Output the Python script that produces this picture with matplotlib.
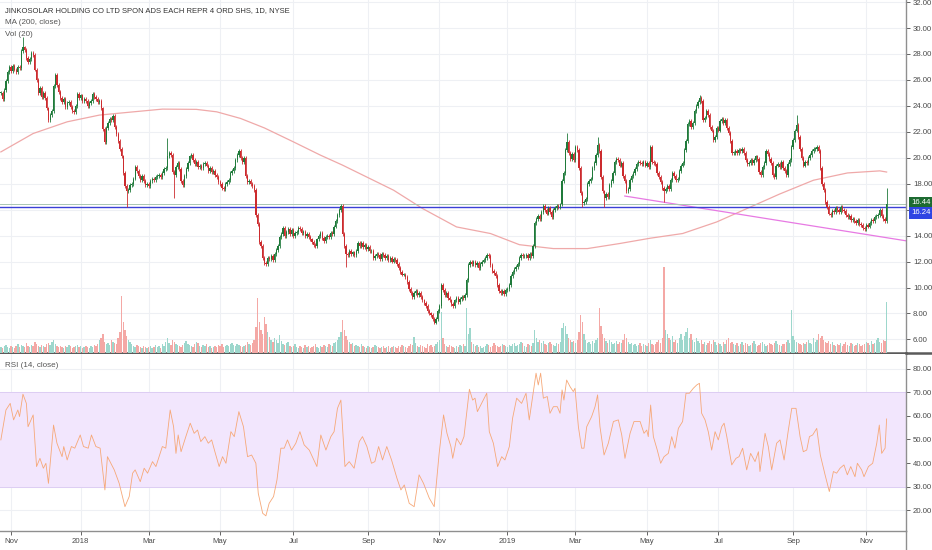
import numpy as np
import pandas as pd
import matplotlib
matplotlib.use("Agg")
import matplotlib.pyplot as plt
from matplotlib.lines import Line2D

# ---------------- data ----------------
title = "JINKOSOLAR HOLDING CO LTD SPON ADS EACH REPR 4 ORD SHS, 1D, NYSE"
start_date = "2017-10-24"
nyse_holidays = ["2017-11-23", "2017-12-25", "2018-01-01", "2018-01-15", "2018-02-19",
                 "2018-03-30", "2018-05-28", "2018-07-04", "2018-09-03", "2018-11-22",
                 "2018-12-05", "2018-12-25", "2019-01-01", "2019-01-21", "2019-02-18",
                 "2019-04-19", "2019-05-27", "2019-07-04", "2019-09-02"]

# daily closes (open taken as previous close)
close = [
    25.0, 24.5, 25.2, 25.9, 26.6, 27.0, 26.7, 27.1, 26.8, 26.6,
    27.0, 26.9, 28.2, 28.5, 28.3, 27.7, 27.4, 27.6, 28.1, 27.9,
    26.8, 26.0, 25.0, 25.4, 24.7, 25.0, 24.6, 23.8, 22.9, 23.3,
    23.6, 25.5, 26.4, 25.6, 25.1, 24.6, 24.3, 24.5, 23.9, 24.2,
    24.3, 23.9, 23.6, 23.5, 24.0, 24.9, 24.6, 24.8, 24.4, 24.5,
    24.4, 24.0, 24.2, 24.4, 24.9, 24.7, 24.5, 24.3, 24.4, 23.8,
    22.2, 21.2, 22.3, 22.7, 23.0, 22.9, 23.2, 22.4, 21.8, 21.3,
    20.7, 20.1, 18.8, 17.8, 17.4, 17.5, 17.9,
    18.0, 18.4, 19.3,
    19.0, 18.6, 18.3, 18.6, 18.2, 17.9, 18.0, 17.8, 18.2, 18.4,
    18.3, 18.5, 18.6, 18.7, 18.5, 18.8, 19.1, 19.2, 20.1, 20.4,
    20.2, 18.9, 18.7, 19.3, 19.6, 19.1, 18.2, 17.9, 18.6, 19.1,
    19.6, 20.1, 20.2, 19.8, 19.5, 19.7, 19.3, 19.4, 19.2, 19.5,
    19.6, 19.4, 19.0, 19.2, 18.9, 19.0, 18.7, 18.5, 18.1, 18.0,
    17.7, 17.6, 18.0, 18.1, 18.3, 18.8, 19.0, 19.2, 19.8, 20.2,
    20.5, 20.0, 19.7, 20.0, 18.6, 18.1, 18.2, 18.0, 17.8, 17.5,
    15.6, 14.9, 13.5, 13.2, 12.3,
    11.9, 11.8, 12.3, 12.2, 12.4,
    12.1, 12.6, 12.9, 13.2, 13.9, 14.1, 14.6, 14.0, 14.3, 14.5,
    14.1, 14.4, 14.0, 14.2, 14.3, 14.6, 14.5, 14.2, 14.3, 14.0,
    14.1, 13.9, 13.7, 13.5, 13.3, 13.2, 13.7, 14.0, 14.2, 13.8,
    13.6, 13.9, 14.0, 13.9, 14.2, 14.1, 14.7, 15.1, 15.6, 16.0,
    16.3, 14.1, 13.2, 12.6, 12.5, 12.8, 12.6, 12.7, 12.5, 12.8,
    13.4, 13.2, 13.4, 13.1, 13.3, 13.0, 13.1, 12.8, 12.8, 12.3,
    12.4, 12.6, 12.5, 12.2, 12.6, 12.5, 12.3, 12.4, 12.1, 12.3,
    12.0, 12.2,
    12.1, 11.8, 11.5, 11.2, 11.0, 11.0, 10.8, 10.4,
    9.9, 9.6, 9.3, 9.6, 9.7, 9.4, 9.6, 9.3, 9.0, 8.8,
    8.6, 8.2, 8.0, 7.9, 7.6, 7.3, 7.6, 8.2, 8.6, 10.2,
    9.8, 9.4, 9.6, 9.2, 9.0, 8.7, 8.6, 9.0, 9.2, 8.9,
    9.1, 9.3, 9.2, 9.4, 10.6, 11.7, 12.0, 11.8, 12.0, 11.7,
    11.9, 11.5, 11.8, 12.0, 12.1, 12.3, 12.5, 12.4, 11.7, 11.3,
    11.1, 10.9, 10.2, 9.7, 9.6, 9.7, 9.5, 9.8, 9.9, 10.2,
    10.9, 11.2, 11.4, 11.6, 11.8, 12.3, 12.5, 12.4,
    12.4, 12.5,
    12.3, 12.6, 12.4, 13.2, 15.0, 15.3, 15.5, 15.3, 15.8, 16.3,
    16.0, 15.7, 16.1, 15.8, 15.4, 16.0, 16.1, 16.3, 16.2, 16.4,
    18.2, 18.8, 20.6, 21.2, 20.4, 19.9, 20.3, 19.8, 20.8, 20.6,
    19.2, 17.3, 16.5, 16.6, 16.8, 18.0, 18.2, 18.4, 19.2, 19.6,
    20.2, 21.0, 20.5, 18.5, 17.4, 16.9, 17.2, 17.0, 17.9, 18.2,
    18.8, 19.7, 19.9, 19.8, 19.4, 19.6, 18.6, 18.2, 17.4, 17.6,
    18.3, 18.6, 18.8, 19.1, 19.5, 19.7, 19.6, 19.5, 19.7, 19.4,
    19.6, 19.3, 20.8, 19.7, 19.6,
    19.5, 18.8, 18.5, 18.1, 17.7,
    17.4, 17.6, 17.8, 17.6, 18.3, 18.8, 18.6, 18.3, 18.4, 19.0,
    19.4, 19.6, 20.6, 21.3, 22.6, 22.8, 22.4, 22.7, 23.6, 24.0,
    24.3, 24.6, 24.4, 22.9, 23.1, 23.6, 23.3, 22.4, 22.1, 21.4,
    21.6, 22.3, 22.1, 22.8, 23.0, 22.7, 22.9, 22.3, 21.9, 21.3,
    20.4, 20.4, 20.5, 20.4, 20.6, 20.5, 20.7, 20.4, 19.8, 19.5,
    19.6, 19.8, 19.6, 19.8, 20.1, 19.9, 18.9, 18.7, 19.3, 19.6,
    20.5, 20.3, 19.9, 19.6, 18.7, 18.5, 19.4, 19.5, 19.3, 19.7,
    19.2,
    19.0, 18.7, 19.5, 19.8, 20.8, 21.4, 22.1, 22.5, 21.6,
    20.7, 20.0, 19.4, 19.7, 19.6, 20.0, 20.2, 20.5, 20.7, 20.7,
    20.8, 20.5, 19.2, 18.0, 17.5, 16.6, 16.2, 15.7, 15.6, 15.9,
    15.8, 16.1, 16.0, 15.8, 16.2, 16.0, 15.9, 15.6, 15.4, 15.5,
    15.2, 15.3, 15.1, 15.0, 15.2, 14.9, 14.8, 14.6, 14.5, 14.8,
    14.7, 15.0, 15.2, 15.1, 15.4, 15.5, 15.6, 16.0, 15.5, 15.3,
    15.1, 16.44,
]

# daily volume (relative units, 100k shares)
volume = [
    5, 4, 6, 7, 5, 4, 6, 5, 4, 6, 8, 5, 7, 6, 5,
    9, 6, 5, 7, 6, 10, 8, 6, 5, 7, 6, 5, 8, 9, 7, 10,
    12, 8, 6, 5, 6, 5, 4, 6, 5, 7, 6, 4, 5, 6, 7, 5, 6, 4, 5, 6, 5, 4, 6, 5, 7, 6, 8, 12, 14,
    18, 10, 8, 9, 7, 12, 10, 9, 8, 14, 20, 56, 30, 22, 16, 12, 10,
    8, 6, 5, 7, 6, 5, 4, 6, 5, 4, 5, 6, 4, 5, 7, 5, 6, 4, 8, 6, 10, 14, 9, 7,
    12, 10, 8, 7, 6, 5, 7, 9, 11, 8, 7, 6, 5, 8, 10, 9, 6, 5, 7, 6, 8, 5, 6, 4, 5,
    6, 5, 7, 6, 8, 5, 6, 7, 6, 8, 9, 7, 6, 8, 7, 6, 5, 6, 7, 10, 8, 7, 9, 12,
    25, 54, 30, 22, 18,
    35, 28, 20, 15, 12, 10, 14, 12, 9, 17, 11, 8, 7, 9, 10, 6,
    5, 6, 8, 5, 4, 6, 5, 4, 7, 5, 6, 4, 5, 6, 8, 5, 4, 6, 5, 7, 6, 5, 8, 7, 6, 9, 10, 12, 15,
    20, 32, 22, 16, 12, 10, 8, 9, 6, 7, 6, 5, 8, 6, 5, 4, 6, 5, 4, 5, 7, 6, 5, 4, 5, 6, 4, 5, 6, 4, 5, 6,
    5, 4, 6, 5, 7, 6, 5, 4, 6, 8, 7, 15, 9, 6, 5, 7, 6, 5, 4, 8, 6, 7, 5, 6, 8, 10,
    12, 40, 14, 8, 6, 5, 7, 6, 5, 4, 6, 5, 7, 6, 8, 6,
    44, 18, 24, 10, 8, 6, 7, 5, 6, 4, 5, 6, 8, 7, 5, 6, 9, 7, 6, 5, 6, 8, 7, 6, 5, 7, 6, 8, 9, 6, 7, 8, 10, 9,
    6, 5, 8, 7, 6, 9, 22, 14, 10, 12, 9, 11, 8, 7, 9, 10, 8, 7, 6, 9, 8, 10,
    24, 29, 26, 18, 14, 12, 10, 11, 9, 12, 20, 37, 30, 18, 12, 9, 10, 8, 11, 9, 12, 14,
    44, 26, 18, 14, 11, 9, 12, 10, 8, 9, 11, 8, 10, 9, 12, 18, 14, 10, 8, 9, 7, 8, 6, 7, 9, 6, 8, 7, 6, 9, 12, 8, 7,
    8, 10, 12, 9, 14,
    85,
    22, 18, 14, 12, 16, 10, 12, 9, 14, 18, 12, 16, 20, 24, 14, 18, 12, 10, 14, 11,
    9, 12, 8, 10, 7, 9, 11, 8, 12, 10, 7, 9, 8, 6, 10, 8, 12, 14, 9, 10,
    8, 7, 9, 6, 8, 10, 7, 9, 8, 6, 7, 9, 11, 8, 6, 7, 9, 10, 8, 6,
    7, 9, 8, 7, 9, 11, 8, 7, 6, 8,
    8, 10, 12, 9, 42, 16, 12, 10, 9, 8,
    7, 9, 8, 10, 12, 9, 8, 14, 10, 12, 18, 14, 16, 12, 10, 9, 11, 8, 10, 7,
    6, 8, 7, 9, 6, 8, 10, 7, 6, 9, 8, 6, 7, 9, 8, 6, 7, 8, 10, 9, 7, 11, 8, 9, 12, 14, 10, 9, 12, 11, 50,
]

# notable wicks
wick_hi_bars = [13, 98, 333, 351, 411, 468, 521]
wick_hi_vals = [29.3, 21.5, 21.9, 21.6, 24.8, 23.3, 17.7]
wick_lo_bars = [74, 102, 203, 255, 342, 355, 390]
wick_lo_vals = [16.2, 16.9, 11.6, 7.2, 16.2, 16.2, 16.6]

# MA (200, close) readings
ma_bar = [0, 19, 39, 58, 78, 95, 115, 127, 141, 155, 172, 188, 201, 231, 248, 268, 288,
          305, 325, 345, 364, 382, 401, 421, 441, 458, 478, 498, 517, 521]
ma_val = [20.45, 21.87, 22.77, 23.29, 23.54, 23.75, 23.73, 23.54, 23.03, 22.3, 21.23, 20.2,
          19.43, 17.5, 16.09, 14.67, 14.16, 13.3, 13.0, 13.0, 13.39, 13.8, 14.16, 15.05,
          16.21, 17.2, 18.27, 18.83, 18.99, 18.9]

# RSI (14, close) readings
rsi_bar = [0, 3, 5.5, 7.5, 10, 11, 13, 15, 16, 19, 21, 23, 25, 26.5, 28, 31, 33, 36, 37, 39,
           41.5, 43.5, 46.7, 48.6, 51.4, 53.3, 55.9, 58.4, 61.2, 62.7, 66.7, 69.6, 73, 75.5,
           77.5, 79, 82, 84.3, 86.3, 89.2, 91.2, 93.1, 95, 97, 99.6, 101.6, 103, 104.3, 106,
           108.8, 111.4, 113.7, 115.7, 117.6, 120, 122, 124, 125.9, 128.4, 130.4, 132.4,
           135.3, 137.3, 140, 142.7, 145.1, 147.5, 150, 151.4, 154, 155.9, 157.8, 160.4,
           162.4, 164.7, 166.7, 168.6, 171, 173.5, 175.9, 178.4, 181.4, 185.9, 188.2, 191.2,
           194.1, 196, 198, 200, 202.4, 204.9, 207.8, 210.8, 212.7, 215.3, 218, 220, 222.2,
           224.5, 227, 229.8, 233, 235.3, 237.3, 240.2, 243.1, 246, 248.6, 252, 254.9, 257.8,
           260.4, 262.4, 264.7,
           265.8, 268.1, 270.5, 272.4, 275.6, 277.5, 278.9, 280.3, 282.8, 285.8, 287.3, 289.7,
           292.2, 294.6, 296.5, 299.1, 301, 303.4, 306.3, 308.9, 310.8, 313.2, 314.8, 316.1,
           317.5, 319.1, 321.4, 323, 325, 327.3, 328.9, 330.1, 331.2, 332.8, 334.8, 336.7,
           337.7, 339.7, 341.6, 343, 344.6, 347.5, 349.5, 351, 352.4, 354.8, 357.3, 360.3,
           363.2, 365.2, 367.1, 370.1, 372.4, 376, 378.3, 379.9, 380.8, 382.2, 383.8, 386.1,
           388.1, 390.1, 392.6, 394.6, 396.5, 398.5, 401, 403, 405, 407.3, 409.3, 410.9,
           412.2, 414.2, 416.1, 418.1, 420.1, 422, 424, 425.4, 427, 429.9, 432.4, 434.2,
           436.3, 438.7, 441, 443.6, 445.6, 446.5, 449.5, 451.4, 453.4, 456.3, 458.3, 460.7,
           463.2, 465.2, 467.7, 470.1, 472, 474, 475.6, 477.5, 479.9, 482, 484.8, 487.3,
           489.7, 491.6, 493.6, 495.9, 497.9, 499.9, 502.4, 503.8, 506.3, 507.7, 510.3,
           512.8, 515.2, 516.7, 518.1, 520.1, 521]
rsi_val = [49.8, 62.5, 65.3, 58.3, 62.5, 59.7, 69.2, 65.3, 55.4, 60.4, 38.5, 42.0, 37.8, 39.9,
           31.4, 56.1, 48.4, 42.7, 47, 41.3, 47, 46.3, 51.9, 47, 46.3, 51.9, 47, 46.3, 28.6,
           42.7, 37.1, 31.4, 21.5, 25.8, 35.7, 37.1, 32.1, 37.8, 35.7, 40.6, 38.5, 42.7, 47,
           46.3, 62.5, 55.4, 44.1, 51.9, 44.8, 51.2, 56.9, 52.6, 54.0, 49.1, 51.2, 48.4, 49.8,
           44.8, 38.5, 42.7, 39.9, 53.3, 51.2, 61.8, 55.4, 42.7, 43.4, 39.9, 27.2, 18.7, 17.6,
           22.9, 25.8, 32.8, 46.3, 46.3, 49.8, 45.5, 48.4, 53.3, 47.7, 45.5, 38.5, 51.9, 45.5,
           51.2, 53.3, 63.2, 66.7, 38.5, 40.6, 37.8, 49.1, 51.2, 47, 39.9, 40.6, 47, 41.3, 47,
           41.3, 33.5, 28.6, 30.7, 22.9, 21.5, 35, 31.4, 25.1, 21.5, 44.1, 60.4, 52.6, 47,
           42.0, 50.5, 47.7, 51.2, 71.3, 66.7, 67.5, 61.8, 65.3, 69.6, 53.3, 48.4, 38.5, 42.7,
           41.3, 47, 59, 67.5, 65.3, 69.6, 58.3, 70.3, 78.1, 73.1, 78.1, 67.5, 68.2, 61.1,
           63.9, 63.9, 61.1, 71.0, 66.7, 75.2, 72.4, 70.3, 71.7, 55.4, 46.3, 46.3, 55.4, 59.7,
           63.9, 68.9, 55.4, 43.4, 48.4, 57.6, 58.3, 51.9, 42.0, 52.6, 57.6, 57.6, 52.6, 54.0,
           51.2, 64.6, 51.2, 45.5, 39.9, 42.7, 44.1, 51.2, 46.3, 54.7, 57.6, 69.6, 69.6, 71.7,
           73.1, 73.8, 61.1, 58.3, 53.3, 45.5, 53.3, 49.8, 55.4, 56.9, 51.2, 39.2, 42.0, 42.7,
           46.3, 37.1, 44.1, 40.6, 44.8, 36.4, 52.6, 47, 37.1, 48.4, 49.8, 41.3, 54.0, 63.2,
           63.2, 51.2, 44.8, 45.5, 51.2, 51.9, 54.7, 43.4, 35, 27.9, 36.4, 35.7, 37.8, 39.2,
           35, 38.5, 34.2, 39.9, 37.1, 34.2, 38.5, 39.9, 48.4, 56.1, 44.1, 46.3, 58.7]

# drawn trend line and horizontal line
trend_bar = [367, 532.4]
trend_val = [17.05, 13.6]
hline_price = 16.24
last_price = 16.44

price_ticks = [6, 8, 10, 12, 14, 16, 18, 20, 22, 24, 26, 28, 30, 32]
rsi_ticks = [20, 30, 40, 50, 60, 70, 80]

assert len(close) == len(volume), (len(close), len(volume))
assert len(rsi_bar) == len(rsi_val), (len(rsi_bar), len(rsi_val))
assert len(ma_bar) == len(ma_val)

# ---------------- figure ----------------
plt.rcParams['font.family'] = ['Liberation Sans Narrow', 'Liberation Sans', 'DejaVu Sans']

W, H = 932, 550
fig = plt.figure(figsize=(W / 100, H / 100), dpi=100)
fig.patch.set_facecolor('white')


def px_axes(x0, y0, x1, y1):
    return fig.add_axes([x0 / W, 1 - y1 / H, (x1 - x0) / W, (y1 - y0) / H])


n = len(close)
xi = np.arange(n)
c = np.array(close)
o = np.r_[c[0], c[:-1]]
hi = np.maximum(o, c) + 0.15
lo = np.minimum(o, c) - 0.15
hi[wick_hi_bars] = wick_hi_vals
lo[wick_lo_bars] = wick_lo_vals
up = c >= o

dates = pd.bdate_range(start=start_date, periods=n, freq='C', holidays=nyse_holidays)
tick_pos, tick_lab = [], []
for i in range(1, n):
    if dates[i].month != dates[i - 1].month and dates[i].month % 2 == 1:
        tick_pos.append(i)
        tick_lab.append(str(dates[i].year) if dates[i].month == 1 else dates[i].strftime('%b'))

GRID = '#eef0f4'
TXT = '#4a4a4a'
XLIM = (-0.5, 532.4)

# ---- price panel ----
ax = px_axes(0, 0, 906, 352.5)
ax.set_xlim(*XLIM)
ax.set_ylim(4.99, 32.16)

# volume overlay (twin axes, its own scale)
axv = ax.twinx()
axv.set_xlim(*XLIM)
axv.set_ylim(0, 352)
axv.bar(xi, volume, width=0.8, color=np.where(up, '#9dd7cc', '#f4a8a5'), linewidth=0, zorder=1)
axv.set_yticks([])
for s in axv.spines.values():
    s.set_visible(False)

for p in price_ticks:
    ax.axhline(p, color=GRID, lw=0.8, zorder=0)
for t in tick_pos:
    ax.axvline(t, color=GRID, lw=0.8, zorder=0)

up_col, dn_col = '#1f7a3a', '#cc2b2e'
cols = np.where(up, up_col, dn_col)
ax.vlines(xi, lo, hi, colors=cols, lw=0.6, zorder=3)
body = np.maximum(np.abs(c - o), 0.05)
ax.bar(xi, body, bottom=np.minimum(o, c), width=0.75, color=cols, linewidth=0, zorder=4)

ax.plot(ma_bar, ma_val, color='#efa9a9', lw=0.9, zorder=2)
ax.plot(trend_bar, trend_val, color='#e77ae3', lw=0.9, zorder=2)
ax.axhline(last_price, color='#a9c6b2', lw=0.7, zorder=2)
ax.axhline(hline_price, color='#3a3fd6', lw=1.0, zorder=2)

# the 16.00 label sits under the price tags, so it is left blank
ax.yaxis.tick_right()
ax.set_yticks(price_ticks)
ax.set_yticklabels(["" if p == 16 else f"{p:.2f}" for p in price_ticks])
ax.tick_params(axis='y', labelsize=5.6, colors=TXT, length=3, width=0.6, pad=2,
               left=False, labelleft=False, right=True, labelright=True)
ax.set_xticks([])
for s in ('top', 'left'):
    ax.spines[s].set_visible(False)
ax.spines['right'].set_color('#8f8f8f')
ax.spines['right'].set_linewidth(1.0)
ax.spines['bottom'].set_color('#5a5a5a')
ax.spines['bottom'].set_linewidth(1.8)

ax.annotate(f"{last_price:.2f}", xy=(1, last_price), xycoords=('axes fraction', 'data'),
            xytext=(3.5, 1.2), textcoords='offset points', ha='left', va='center',
            fontsize=5.6, color='white', annotation_clip=False, zorder=10,
            bbox=dict(boxstyle='square,pad=0.28', fc='#1d6b31', ec='none'))
ax.annotate(f"{hline_price:.2f}", xy=(1, hline_price), xycoords=('axes fraction', 'data'),
            xytext=(3.5, -4.6), textcoords='offset points', ha='left', va='center',
            fontsize=5.6, color='white', annotation_clip=False, zorder=10,
            bbox=dict(boxstyle='square,pad=0.28', fc='#2f45e3', ec='none'))

# ---- RSI panel ----
axr = px_axes(0, 353.5, 906, 531)
axr.set_xlim(*XLIM)
axr.set_ylim(11.18, 86.45)
for r in rsi_ticks:
    axr.axhline(r, color=GRID, lw=0.8, zorder=0)
for t in tick_pos:
    axr.axvline(t, color=GRID, lw=0.8, zorder=0)
axr.axhspan(30, 70, color='#f2e6fd', lw=0, zorder=1)
axr.axhline(70, color='#ddcdf3', lw=0.7, zorder=1)
axr.axhline(30, color='#ddcdf3', lw=0.7, zorder=1)
axr.plot(rsi_bar, rsi_val, color='#f6a878', lw=0.6, zorder=3)

axr.yaxis.tick_right()
axr.set_yticks(rsi_ticks)
axr.set_yticklabels([f"{r:.2f}" for r in rsi_ticks])
axr.tick_params(axis='y', labelsize=5.6, colors=TXT, length=3, width=0.6, pad=2)
axr.set_xticks(tick_pos)
axr.set_xticklabels(tick_lab)
axr.tick_params(axis='x', labelsize=5.6, colors=TXT, length=3, width=0.6, pad=2)
for s in ('top', 'left'):
    axr.spines[s].set_visible(False)
axr.spines['right'].set_color('#8f8f8f')
axr.spines['right'].set_linewidth(1.0)
axr.spines['bottom'].set_color('#8f8f8f')
axr.spines['bottom'].set_linewidth(1.0)

# frame pieces outside the plotting areas
fig.add_artist(Line2D([906 / W, 1], [1 - 352.5 / H] * 2, color='#5a5a5a', lw=1.8))
fig.add_artist(Line2D([906 / W, 906 / W], [0, 1 - 531 / H], color='#8f8f8f', lw=1.0))

# legend texts
fig.text(5 / W, 1 - 11 / H, title, fontsize=5.5, color='#333333', va='center')
fig.text(5 / W, 1 - 23 / H, "MA (200, close)", fontsize=5.8, color='#555555', va='center')
fig.text(5 / W, 1 - 34 / H, "Vol (20)", fontsize=5.8, color='#555555', va='center')
fig.text(5 / W, 1 - 365.5 / H, "RSI (14, close)", fontsize=5.8, color='#555555', va='center')

fig.savefig("out.png", dpi=100, facecolor='white')
